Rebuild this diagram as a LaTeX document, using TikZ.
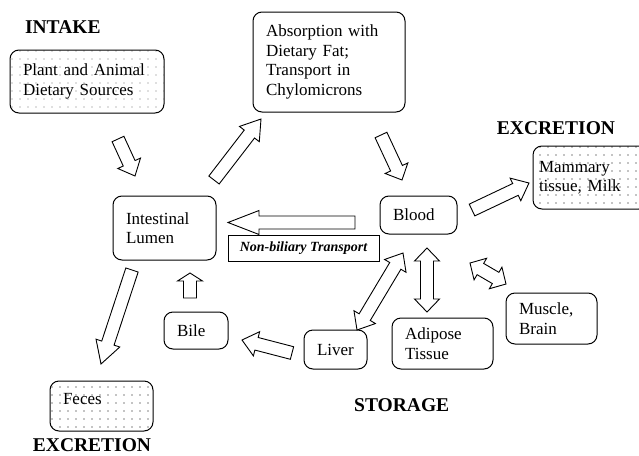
\documentclass[tikz,border=0pt]{standalone}
\usepackage{fontspec}
\setmainfont{Liberation Serif}
\usetikzlibrary{patterns,calc}

\pgfdeclarepatternformonly{sparsedots}{\pgfqpoint{-1pt}{-1pt}}{\pgfqpoint{8pt}{8pt}}{\pgfqpoint{8pt}{8pt}}{%
  \pgfpathcircle{\pgfqpoint{4pt}{4pt}}{0.7pt}\pgfusepath{fill}}

\newcommand{\shafthw}{6.5pt}
\newcommand{\headhw}{12.5pt}

% hollow block arrow, #1 head length, #2 tail, #3 tip
\newcommand{\fatarrow}[3][13pt]{%
  \draw[fat] let \p1=(#2), \p2=(#3), \n1={atan2(\y2-\y1,\x2-\x1)}, \n2={veclen(\x2-\x1,\y2-\y1)} in
    [shift={(\p1)}, rotate=\n1]
    (0pt,-\shafthw) -- ({\n2-#1},-\shafthw) -- ({\n2-#1},-\headhw) -- (\n2,0pt)
    -- ({\n2-#1},\headhw) -- ({\n2-#1},\shafthw) -- (0pt,\shafthw) -- cycle;}
% hollow block arrow with two heads
\newcommand{\fatdarrow}[3][13pt]{%
  \draw[fat] let \p1=(#2), \p2=(#3), \n1={atan2(\y2-\y1,\x2-\x1)}, \n2={veclen(\x2-\x1,\y2-\y1)} in
    [shift={(\p1)}, rotate=\n1]
    (0pt,0pt) -- (#1,\headhw) -- (#1,\shafthw) -- ({\n2-#1},\shafthw) -- ({\n2-#1},\headhw)
    -- (\n2,0pt) -- ({\n2-#1},-\headhw) -- ({\n2-#1},-\shafthw) -- (#1,-\shafthw) -- (#1,-\headhw) -- cycle;}

\tikzset{
  box/.style={draw, rounded corners=9pt, line width=1pt, align=left, inner xsep=13pt,
    font=\fontsize{17}{19.5}\selectfont},
  dotbox/.style={box, pattern=sparsedots, pattern color=black},
  heading/.style={anchor=base, inner sep=0pt, font=\fontsize{19.5}{22}\selectfont\bfseries},
  fat/.style={draw, fill=white, line width=0.9pt, line join=miter},
}

\begin{document}
\begin{tikzpicture}[x=1pt, y=-1pt]
        \useasboundingbox (0,0) rectangle (639,455);
        \clip (0,0) rectangle (639,455);

        % Headings
        \node[heading] (intakehd) at (62.8,33.3) {INTAKE};
        \node[heading] (excrhd) at (556,134) {EXCRETION};
        \node[heading] (storehd) at (401.7,411.7) {STORAGE};
        \node[heading] (feceshd) at (92,451.7) {EXCRETION};

        % Nodes (top row)
        \node (intake) at (87,81.5) [dotbox, pattern color=black!55, minimum width=154pt, minimum height=63pt, text width=128pt] {Plant and Animal\\Dietary Sources};
        \node (absorb) at (329,62) [box, minimum width=152pt, minimum height=100pt, text width=126pt] {Absorption with\\Dietary Fat;\\Transport in\\Chylomicrons};

        % Nodes (middle row)
        \node (lumen) at (164.5,228) [box, minimum width=103pt, minimum height=64pt, text width=77pt] {Intestinal\\Lumen};
        \node (blood) at (418.5,215) [box, minimum width=77pt, minimum height=38pt, text width=51pt] {Blood};
        \node (milk) at (590.5,177.5) [dotbox, inner xsep=6pt, minimum width=115pt, minimum height=63pt, text width=103pt] {Mammary\\tissue, Milk};
        \node (nonbil) at (303.5,248) [draw, line width=0.8pt, minimum width=151pt, minimum height=26pt, inner sep=0pt,
          font=\fontsize{14}{16}\selectfont\bfseries\itshape] {Non-biliary Transport};

        % Nodes (bottom row)
        \node (bile) at (196,330.5) [box, minimum width=64pt, minimum height=37pt, text width=38pt] {Bile};
        \node (liver) at (335.5,349.5) [box, minimum width=63pt, minimum height=39pt, text width=37pt] {Liver};
        \node (adipose) at (442.5,343.5) [box, minimum width=101pt, minimum height=51pt, text width=75pt] {Adipose\\Tissue};
        \node (muscle) at (551.5,318.5) [box, minimum width=91pt, minimum height=51pt, text width=65pt] {Muscle,\\Brain};
        \node (feces) at (101.5,406) [dotbox, minimum width=103pt, minimum height=50pt, text width=77pt, text depth=14pt] {Feces};

        % Arrow ends
        \coordinate (intake-t) at (118,139);   \coordinate (intake-h) at (135,176);
        \coordinate (lumen-t) at (214,180);    \coordinate (absorb-h) at (261,119);
        \coordinate (absorb-t) at (381,135);   \coordinate (blood-h) at (402,180);
        \coordinate (blood-t) at (472,210);    \coordinate (milk-h) at (529,183);
        \coordinate (blood-l) at (355,222.5);  \coordinate (lumen-h) at (228,222.5);
        \coordinate (liver-a) at (357,330);    \coordinate (blood-a) at (403,253);
        \coordinate (adipose-a) at (427,312);  \coordinate (blood-b) at (427,248);
        \coordinate (muscle-a) at (506,284);   \coordinate (blood-c) at (470,263);
        \coordinate (liver-t) at (292,353);    \coordinate (bile-h) at (242,340);
        \coordinate (bile-t) at (190,298);     \coordinate (lumen-b) at (190,273);
        \coordinate (lumen-f) at (132,270);    \coordinate (feces-h) at (101,364);

        % Edges (intake and absorption)
        \fatarrow[14pt]{intake-t}{intake-h}
        \fatarrow[19pt]{lumen-t}{absorb-h}
        \fatarrow[13pt]{absorb-t}{blood-h}
        \fatarrow[15pt]{blood-t}{milk-h}
        {\renewcommand{\headhw}{12pt}\fatarrow[31pt]{blood-l}{lumen-h}}

        % Edges (blood and storage)
        \fatdarrow[15pt]{liver-a}{blood-a}
        \fatdarrow[13pt]{adipose-a}{blood-b}
        \fatdarrow[12pt]{muscle-a}{blood-c}

        % Edges (bile and excretion)
        \fatarrow[15pt]{liver-t}{bile-h}
        \fatarrow[8pt]{bile-t}{lumen-b}
        \fatarrow[22pt]{lumen-f}{feces-h}
      \end{tikzpicture}
\end{document}
